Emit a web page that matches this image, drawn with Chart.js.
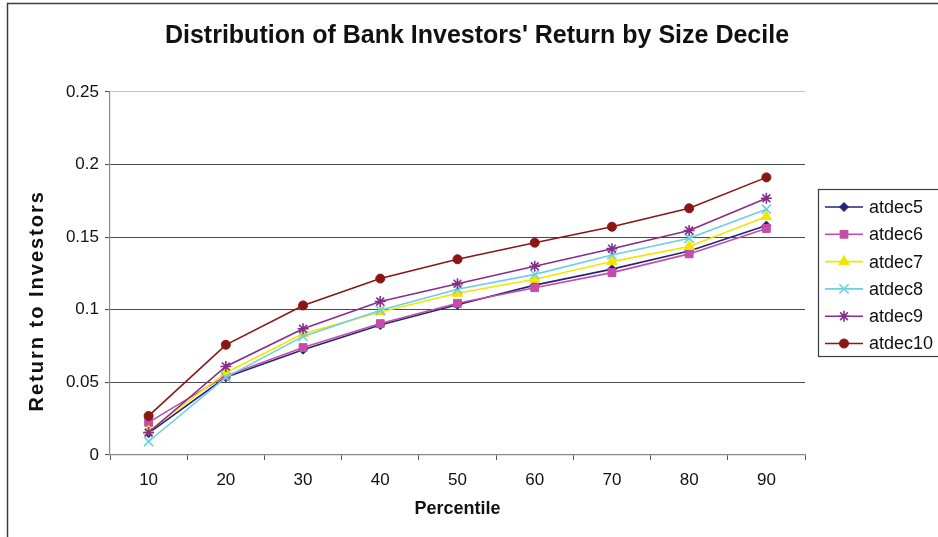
<!DOCTYPE html>
<html>
<head>
<meta charset="utf-8">
<title>Distribution of Bank Investors' Return by Size Decile</title>
<script src="https://cdn.jsdelivr.net/npm/chart.js@4/dist/chart.umd.min.js"></script>
<style>
  html, body { margin: 0; padding: 0; background: #ffffff; }
  #wrap { position: relative; width: 938px; height: 537px; }
</style>
</head>
<body>
<div id="wrap"><canvas id="chart" width="938" height="537"></canvas></div>
<script>
// Percentile categories along the x axis
const percentiles = ['10', '20', '30', '40', '50', '60', '70', '80', '90'];

// Return to investors for each size decile
const atdec5  = [0.0150, 0.0535, 0.0725, 0.0895, 0.1035, 0.1170, 0.1280, 0.1405, 0.1580];
const atdec6  = [0.0225, 0.0545, 0.0740, 0.0905, 0.1045, 0.1152, 0.1256, 0.1385, 0.1560];
const atdec7  = [0.0165, 0.0567, 0.0835, 0.0985, 0.1114, 0.1210, 0.1332, 0.1436, 0.1642];
const atdec8  = [0.0093, 0.0535, 0.0817, 0.0997, 0.1141, 0.1244, 0.1378, 0.1493, 0.1693];
const atdec9  = [0.0155, 0.0610, 0.0869, 0.1057, 0.1180, 0.1300, 0.1421, 0.1546, 0.1768];
const atdec10 = [0.0269, 0.0759, 0.1030, 0.1215, 0.1348, 0.1462, 0.1572, 0.1699, 0.1912];

// Value axis tick labels
const yTickLabels = ['0', '0.05', '0.1', '0.15', '0.2', '0.25'];

const seriesNames = ['atdec5', 'atdec6', 'atdec7', 'atdec8', 'atdec9', 'atdec10'];
const seriesData  = [atdec5, atdec6, atdec7, atdec8, atdec9, atdec10];

const chartTitle = "Distribution of Bank Investors' Return by Size Decile";
const xTitle = 'Percentile';
const yTitle = 'Return to Investors';

// Line colour, marker shape and marker radius per series
const styles = [
  { color: '#24247a', shape: 'rectRot',  r: 4.5 },
  { color: '#c24ea6', shape: 'rect',     r: 5.5 },
  { color: '#f2e600', shape: 'triangle', r: 6 },
  { color: '#6ccfe2', shape: 'crossRot', r: 6.5 },
  { color: '#862d8c', shape: 'star',     r: 5.5 },
  { color: '#8a1616', shape: 'circle',   r: 4.5 }
];

const FONT = '"Liberation Sans", Arial, sans-serif';

const datasets = seriesNames.map((name, i) => ({
  label: name,
  data: seriesData[i],
  borderColor: styles[i].color,
  backgroundColor: styles[i].color,
  pointBackgroundColor: styles[i].color,
  pointBorderColor: styles[i].color,
  pointStyle: styles[i].shape,
  pointRadius: styles[i].r,
  pointHoverRadius: styles[i].r,
  pointBorderWidth: (styles[i].shape === 'crossRot' || styles[i].shape === 'star') ? 1.6 : 1,
  borderWidth: 1.6,
  tension: 0,
  fill: false,
  order: seriesNames.length - i
}));

// Draws the outer frame, the rotated value-axis title and the boxed legend
const decorPlugin = {
  id: 'decor',
  afterDraw(chart) {
    const ctx = chart.ctx;
    const ca = chart.chartArea;

    ctx.save();
    ctx.strokeStyle = '#3c3c3c';
    ctx.lineWidth = 1.5;
    ctx.beginPath();
    ctx.moveTo(7.5, 537);
    ctx.lineTo(7.5, 3.5);
    ctx.lineTo(938, 3.5);
    ctx.stroke();
    ctx.restore();

    // value axis title
    ctx.save();
    ctx.translate(37, ca.top + (ca.bottom - ca.top) * 0.575);
    ctx.rotate(-Math.PI / 2);
    ctx.font = 'bold 20px ' + FONT;
    ctx.fillStyle = '#111111';
    ctx.textAlign = 'center';
    ctx.textBaseline = 'middle';
    if ('letterSpacing' in ctx) ctx.letterSpacing = '2px';
    ctx.fillText(yTitle, 0, 0);
    ctx.restore();

    // legend
    const bx = 818.5, by = 189.5, bw = 125, bh = 167;
    ctx.save();
    ctx.fillStyle = '#ffffff';
    ctx.fillRect(bx, by, bw, bh);
    ctx.strokeStyle = '#3c3c3c';
    ctx.lineWidth = 1.2;
    ctx.strokeRect(bx, by, bw, bh);
    const rowTop = by + 17.5, rowStep = 27.3;
    seriesNames.forEach((name, i) => {
      const y = rowTop + i * rowStep;
      const st = styles[i];
      ctx.strokeStyle = st.color;
      ctx.lineWidth = 1.6;
      ctx.beginPath();
      ctx.moveTo(825, y);
      ctx.lineTo(863, y);
      ctx.stroke();
      ctx.fillStyle = st.color;
      ctx.strokeStyle = st.color;
      ctx.lineWidth = (st.shape === 'crossRot' || st.shape === 'star') ? 1.6 : 1;
      if (Chart.helpers && Chart.helpers.drawPoint) {
        Chart.helpers.drawPoint(ctx, { pointStyle: st.shape, radius: st.r, rotation: 0, borderWidth: ctx.lineWidth }, 844, y);
      }
      ctx.fillStyle = '#111111';
      ctx.font = '18px ' + FONT;
      ctx.textAlign = 'left';
      ctx.textBaseline = 'middle';
      ctx.fillText(name, 869, y + 1);
    });
    ctx.restore();
  }
};

new Chart(document.getElementById('chart'), {
  type: 'line',
  data: { labels: percentiles, datasets: datasets },
  options: {
    responsive: false,
    animation: false,
    devicePixelRatio: 1,
    layout: { padding: { left: 16, right: 0, top: 0, bottom: 0 } },
    plugins: {
      legend: { display: false },
      tooltip: { enabled: false },
      title: {
        display: true,
        text: chartTitle,
        color: '#111111',
        font: { family: FONT, size: 25, weight: 'bold' },
        padding: { top: 21, bottom: 41 }
      }
    },
    scales: {
      x: {
        type: 'category',
        offset: true,
        border: { display: true, color: '#8a8a8a', width: 1.2 },
        grid: {
          offset: true,
          drawOnChartArea: false,
          drawTicks: true,
          tickLength: 5,
          tickColor: '#555555'
        },
        ticks: {
          color: '#111111',
          font: { family: FONT, size: 17 },
          padding: 10,
          maxRotation: 0
        },
        title: {
          display: true,
          text: xTitle,
          color: '#111111',
          font: { family: FONT, size: 18, weight: 'bold' },
          padding: { top: 0, bottom: 17 }
        },
        afterFit(scale) { scale.height = 82; }
      },
      y: {
        position: 'left',
        min: 0,
        max: 0.25,
        border: { display: true, color: '#8a8a8a', width: 1.2 },
        grid: {
          color: (c) => (c.tick && c.tick.value >= 0.25 ? '#c4c4c4' : '#4a4a4a'),
          lineWidth: 1.1,
          drawTicks: true,
          tickLength: 5,
          tickColor: '#555555'
        },
        ticks: {
          stepSize: 0.05,
          color: '#111111',
          font: { family: FONT, size: 17 },
          padding: 6,
          callback: (value, index) => yTickLabels[index]
        },
        afterFit(scale) { scale.width = 94; }
      },
      side: {
        position: 'right',
        display: true,
        min: 0,
        max: 0.25,
        border: { display: false },
        grid: { display: false, drawTicks: false },
        ticks: { display: false },
        afterFit(scale) { scale.width = 133; }
      }
    }
  },
  plugins: [decorPlugin]
});
</script>
</body>
</html>
